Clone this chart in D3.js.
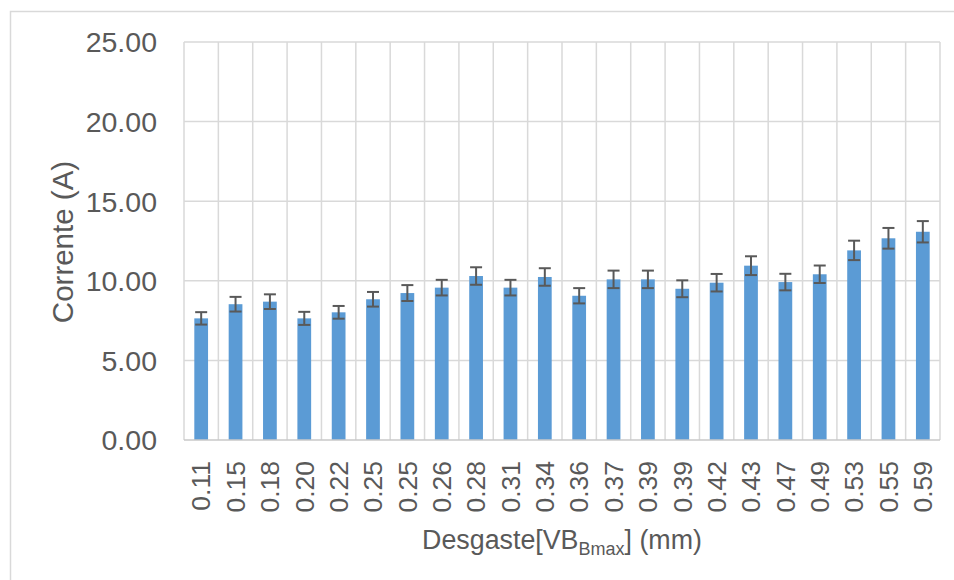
<!DOCTYPE html>
<html>
<head>
<meta charset="utf-8">
<script src="https://cdn.jsdelivr.net/npm/d3@7"></script>
<style>
  html, body { margin: 0; padding: 0; background: #fff; }
  svg { display: block; font-family: "Liberation Sans", Arial, sans-serif; }
</style>
</head>
<body>
<svg id="chart" width="954" height="580"></svg>
<script>
// Tool wear (mm) and the mean current measured at each wear level
const categories = ["0.11","0.15","0.18","0.20","0.22","0.25","0.25","0.26","0.28","0.31","0.34",
                    "0.36","0.37","0.39","0.39","0.42","0.43","0.47","0.49","0.53","0.55","0.59"];
const currents   = [7.64, 8.53, 8.69, 7.64, 8.02, 8.84, 9.23, 9.57, 10.30, 9.57, 10.24,
                    9.06, 10.09, 10.09, 9.50, 9.88, 10.95, 9.92, 10.41, 11.91, 12.67, 13.08];
const errors     = [0.39, 0.46, 0.46, 0.41, 0.40, 0.46, 0.50, 0.49, 0.55, 0.49, 0.55,
                    0.48, 0.55, 0.55, 0.53, 0.55, 0.59, 0.52, 0.55, 0.61, 0.65, 0.67];
const yTicks     = [0, 5, 10, 15, 20, 25];

const svg = d3.select("#chart");
const margin = { left: 184, right: 14, top: 42, bottom: 140 };
const W = 954, H = 580;
const textColor = "#595959";
const gridColor = "#d9d9d9";

// Chart area border
svg.append("rect")
  .attr("x", 10.5).attr("y", 11.5)
  .attr("width", 1000).attr("height", 1000)
  .attr("fill", "none").attr("stroke", gridColor).attr("stroke-width", 1.5);

const x = d3.scaleBand()
  .domain(d3.range(categories.length))
  .range([margin.left, W - margin.right])
  .paddingInner(0.6).paddingOuter(0.3);

const xGrid = d3.scaleBand()
  .domain(d3.range(categories.length))
  .range([margin.left, W - margin.right]);

const y = d3.scaleLinear().domain([0, 25]).range([H - margin.bottom, margin.top]);

// Horizontal gridlines
svg.append("g")
  .selectAll("line").data(yTicks.filter(d => d > 0)).join("line")
  .attr("x1", margin.left).attr("x2", W - margin.right)
  .attr("y1", d => y(d)).attr("y2", d => y(d))
  .attr("stroke", gridColor).attr("stroke-width", 1.5);

// Vertical gridlines at category boundaries
const bounds = d3.range(categories.length + 1).map(i =>
  i < categories.length ? xGrid(i) : xGrid(categories.length - 1) + xGrid.bandwidth());
svg.append("g")
  .selectAll("line").data(bounds).join("line")
  .attr("x1", d => d).attr("x2", d => d)
  .attr("y1", y(25)).attr("y2", y(0))
  .attr("stroke", gridColor).attr("stroke-width", 1.5);

// Bars
svg.append("g")
  .selectAll("rect").data(currents).join("rect")
  .attr("x", (d, i) => x(i))
  .attr("width", x.bandwidth())
  .attr("y", d => y(d))
  .attr("height", d => y(0) - y(d))
  .attr("fill", "#5b9bd5");

// Error bars
const capHalf = 6;
const eg = svg.append("g").attr("stroke", textColor).attr("stroke-width", 2);
currents.forEach((v, i) => {
  const cx = x(i) + x.bandwidth() / 2;
  const top = y(v + errors[i]), bot = y(v - errors[i]);
  eg.append("line").attr("x1", cx).attr("x2", cx).attr("y1", top).attr("y2", bot);
  eg.append("line").attr("x1", cx - capHalf).attr("x2", cx + capHalf).attr("y1", top).attr("y2", top);
  eg.append("line").attr("x1", cx - capHalf).attr("x2", cx + capHalf).attr("y1", bot).attr("y2", bot);
});

// Category axis line
svg.append("line")
  .attr("x1", margin.left).attr("x2", W - margin.right)
  .attr("y1", y(0)).attr("y2", y(0))
  .attr("stroke", "#c8c8c8").attr("stroke-width", 1.5);

// Y axis labels
const yAxis = d3.axisLeft(y).tickValues(yTicks).tickFormat(d3.format(".2f")).tickSize(0).tickPadding(27);
const yg = svg.append("g").attr("transform", `translate(${margin.left},0)`).call(yAxis);
yg.select(".domain").remove();
yg.selectAll("text").attr("fill", textColor).style("font-size", "28.5px")
  .style("font-family", "'Liberation Sans', Arial, sans-serif").attr("dy", "0.35em");

// X axis labels, rotated
const xAxis = d3.axisBottom(xGrid).tickFormat(i => categories[i]).tickSize(0);
const xg = svg.append("g").attr("transform", `translate(0,${y(0)})`).call(xAxis);
xg.select(".domain").remove();
xg.selectAll("text")
  .attr("fill", textColor).style("font-size", "26.5px")
  .style("font-family", "'Liberation Sans', Arial, sans-serif")
  .attr("text-anchor", "end")
  .attr("transform", "rotate(-90)")
  .attr("x", -21).attr("y", 0).attr("dy", "0.35em");

// Axis titles
svg.append("text")
  .attr("transform", `translate(73,${(y(0) + y(25)) / 2 + 1}) rotate(-90)`)
  .attr("text-anchor", "middle")
  .attr("fill", textColor).style("font-size", "29.5px")
  .text("Corrente (A)");

const xt = svg.append("text")
  .attr("x", 562).attr("y", 549)
  .attr("text-anchor", "middle")
  .attr("fill", textColor).style("font-size", "26.8px");
xt.append("tspan").text("Desgaste[VB");
xt.append("tspan").attr("dy", 6).style("font-size", "18px").text("Bmax");
xt.append("tspan").attr("dy", -6).text("] (mm)");
</script>
</body>
</html>
